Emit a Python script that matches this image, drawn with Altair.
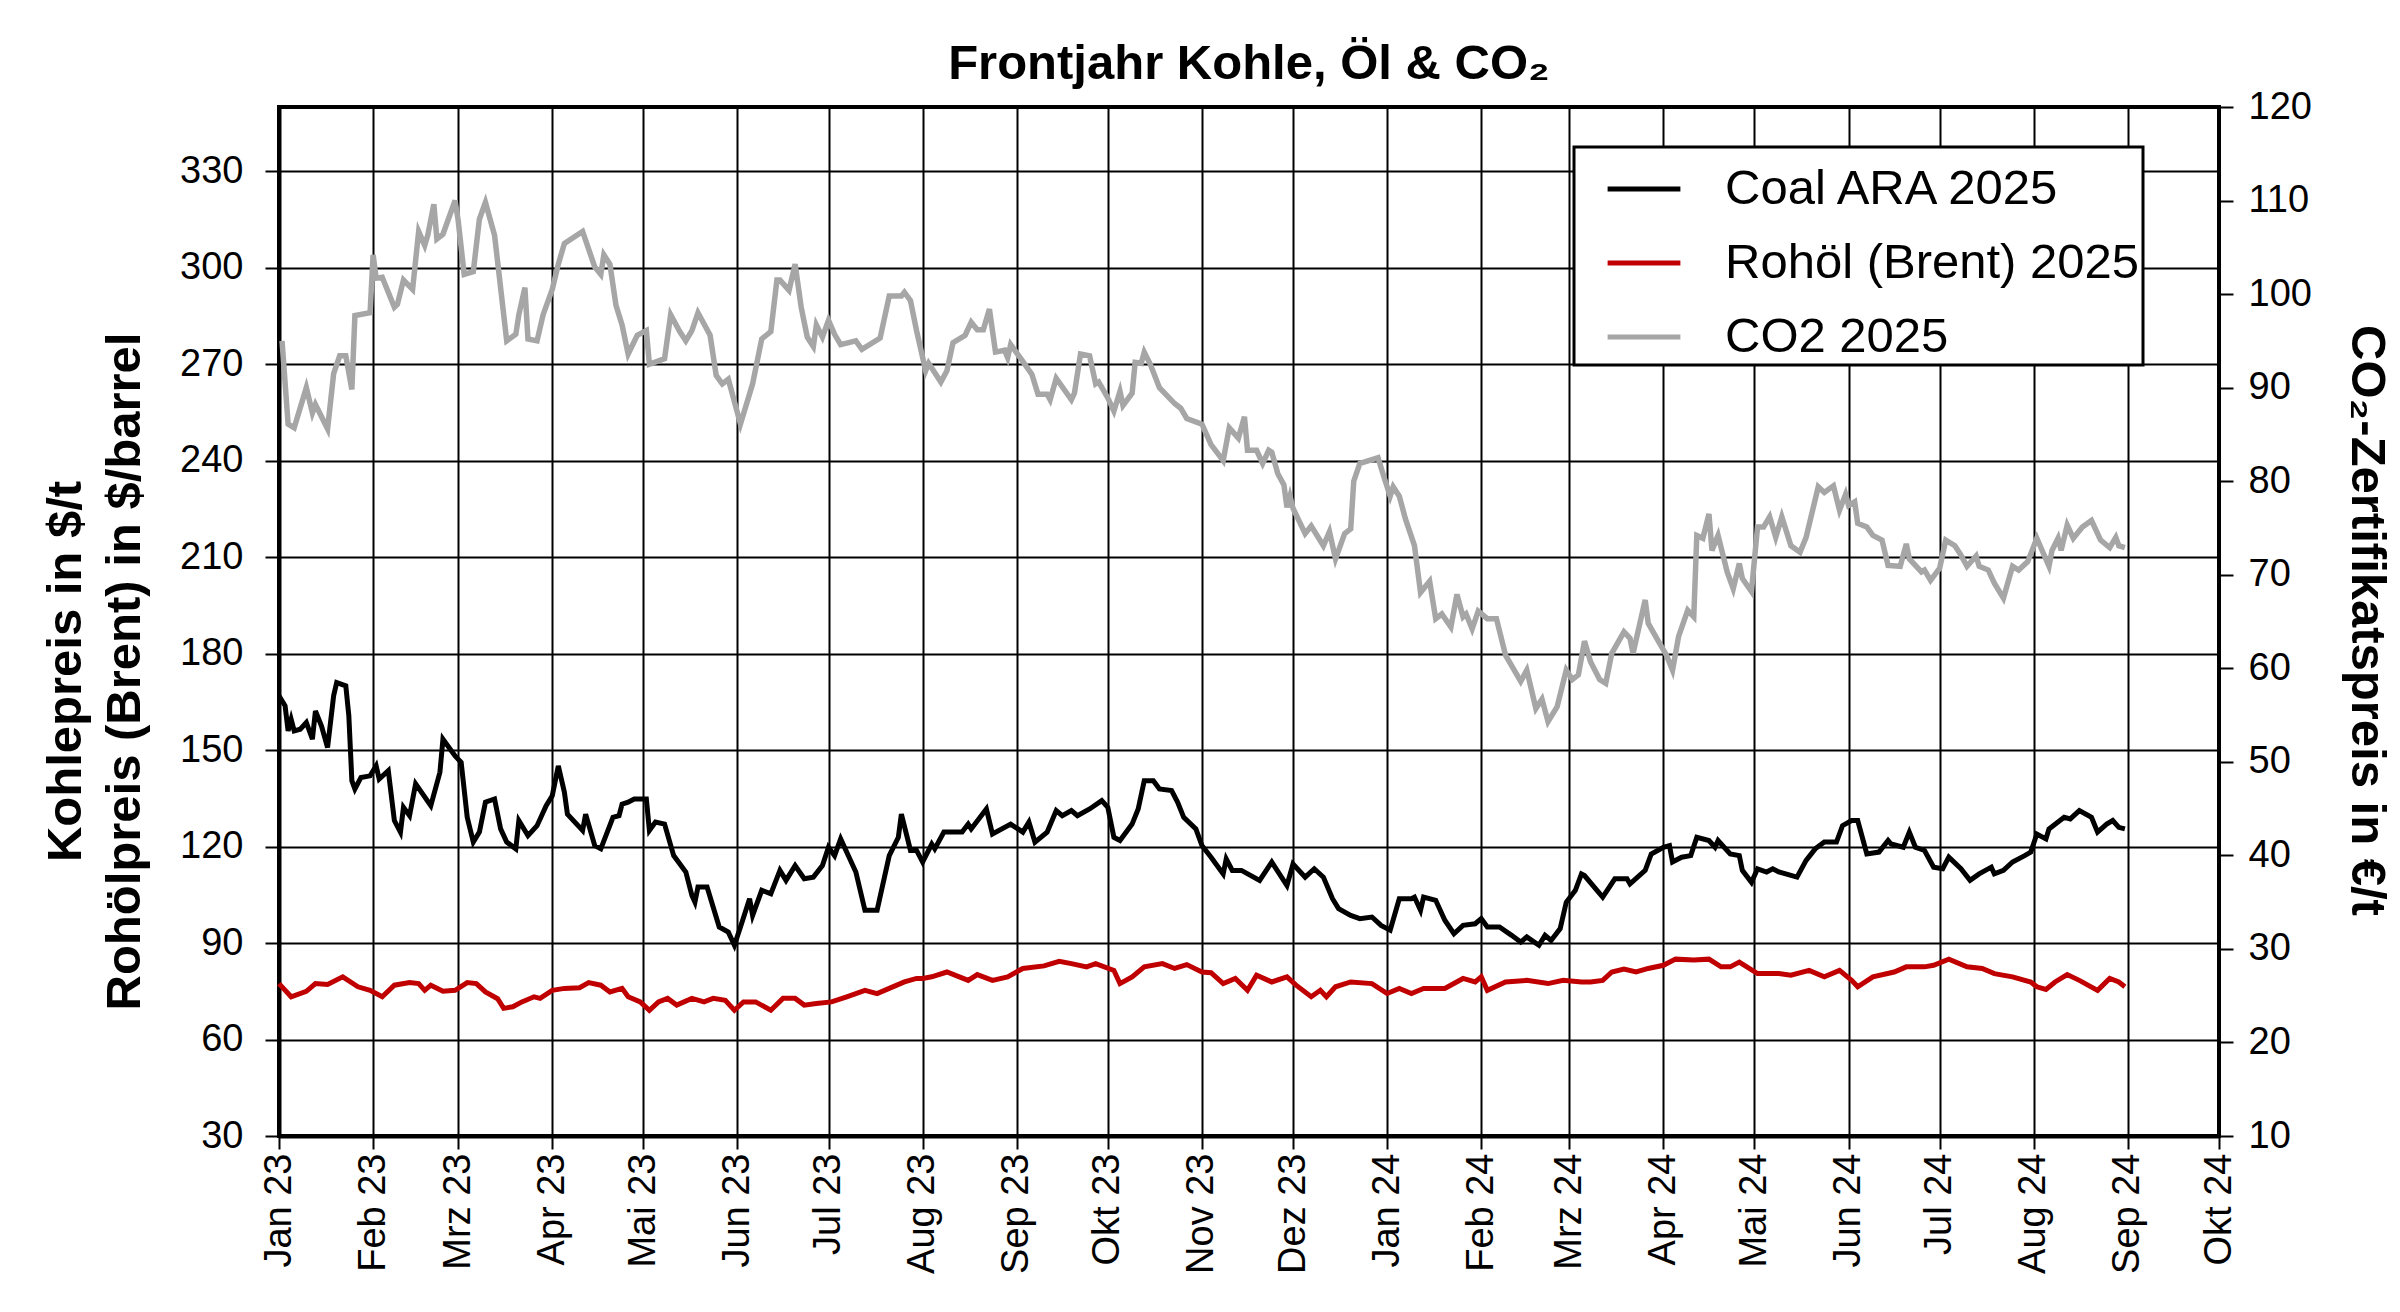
import altair as alt
import pandas as pd

START = pd.Timestamp("2023-01-01")

SERIES = ["Coal ARA 2025", "Rohöl (Brent) 2025", "CO2 2025"]
COLORS = ["#000000", "#C00000", "#A6A6A6"]

MONTHS_DE = ["Jan", "Feb", "Mrz", "Apr", "Mai", "Jun", "Jul", "Aug", "Sep", "Okt", "Nov", "Dez"]

# days since 2023-01-01
coal_day = [0, 2, 3, 4, 5, 7, 9, 11, 12, 14, 16, 18, 19, 22, 23, 24, 25, 27, 30, 32, 33, 36, 38, 40, 41, 43, 45, 50, 53, 54,
            58, 60, 62, 64, 66, 68, 71, 73, 75, 78, 79, 82, 85, 88, 90, 92, 94, 95, 100, 101, 104, 106, 110, 112, 113, 115,
            117, 121, 122, 124, 127, 130, 134, 136, 137, 138, 141, 145, 148, 150, 152, 155, 156, 159, 162, 165, 167, 170,
            173, 176, 179, 181, 183, 185, 188, 190, 193, 197, 201, 204, 205, 208, 210, 212, 215, 216, 219, 225, 227, 228,
            233, 235, 241, 245, 247, 249, 253, 256, 258, 261, 263, 267, 271, 273, 275, 277, 281, 283, 285, 288, 290, 294,
            296, 298, 302, 304, 307, 311, 312, 314, 317, 323, 327, 332, 334, 338, 341, 344, 347, 349, 353, 356, 360, 363,
            366, 369, 373, 374, 376, 377, 381, 384, 387, 390, 394, 396, 398, 402, 406, 409, 411, 415, 417, 419, 422, 424,
            427, 429, 430, 436, 440, 444, 445, 450, 452, 456, 458, 459, 462, 465, 467, 471, 473, 474, 478, 481, 482, 485,
            487, 490, 492, 494, 500, 503, 506, 509, 513, 515, 518, 520, 523, 527, 530, 531, 535, 537, 539, 542, 545, 548,
            550, 554, 557, 560, 564, 565, 568, 571, 575, 577, 579, 582, 583, 588, 590, 593, 597, 599, 602, 604, 606, 608]
coal_usd = [166.9, 163.8, 156.0, 159.6, 156.0, 156.5, 158.6, 153.4, 162.2, 157.5, 150.8, 166.9, 171.0, 170.0, 160.7, 140.5,
            137.9, 141.5, 142.0, 145.1, 141.0, 143.6, 128.1, 124.5, 132.2, 129.6, 139.5, 132.7, 143.1, 153.4,
            148.2, 146.2, 129.1, 121.4, 124.5, 133.8, 134.8, 125.5, 121.4, 119.3, 128.1, 123.4, 126.5, 132.7, 135.8, 145.1,
            136.9, 130.1, 125.0, 130.1, 120.3, 119.3, 129.1, 129.6, 133.2, 133.8,
            134.8, 134.8, 125.0, 127.6, 127.0, 117.2, 112.1, 104.8, 102.7, 107.4, 107.4, 95.0, 93.4, 89.3, 95.0, 103.8,
            98.6, 106.4, 105.3, 112.6, 109.5, 114.1,
            110.0, 110.5, 114.1, 119.8, 117.2, 122.4, 116.2, 112.1, 100.2, 100.2, 117.2, 122.9, 130.1, 118.8, 118.8, 115.2,
            120.8, 119.3, 124.5, 124.5, 127.0, 125.5,
            131.7, 123.9, 127.0, 124.5, 127.6, 121.4, 124.5, 131.2, 129.6, 131.2, 129.6, 131.7, 134.3, 132.2, 122.9, 121.9,
            127.0, 131.7, 140.5, 140.5, 137.9, 137.4,
            133.8, 129.1, 125.5, 120.3, 116.7, 111.5, 116.2, 112.6, 112.6, 109.5, 115.2, 107.9, 114.6, 110.5, 113.1, 110.5,
            103.8, 100.7, 98.6, 97.6, 98.1, 95.5,
            94.0, 103.8, 103.8, 104.3, 100.2, 104.3, 103.3, 97.1, 92.9, 95.5, 96.0, 97.6, 95.0, 95.0, 92.4, 90.3, 91.9, 89.3,
            92.4, 90.8, 94.5, 102.7,
            106.4, 111.5, 111.0, 104.3, 110.0, 110.0, 108.4, 112.6, 117.7, 119.8, 120.3, 115.2, 116.7, 117.2, 122.9, 121.9,
            119.8, 121.9, 117.7, 117.2, 112.6, 108.9,
            113.1, 112.1, 113.1, 112.1, 110.5, 115.7, 119.3, 121.4, 121.4, 126.5, 128.1, 128.1, 117.7, 118.3, 121.9, 120.8,
            119.8, 124.5, 119.8, 118.8, 113.6, 113.1,
            116.7, 113.1, 109.5, 111.5, 113.6, 111.5, 112.6, 115.2, 117.2, 118.3, 123.9, 122.4, 125.5, 129.1, 128.6, 131.2,
            129.1, 124.5, 127.0, 128.1, 126.0, 125.5]

oil_day = [0, 4, 9, 12, 16, 21, 26, 30, 34, 38, 43, 46, 48, 50, 54, 58, 62, 65, 68, 72, 74, 77, 80, 84, 86, 90, 94, 99, 102,
           106, 109, 113, 115, 119, 122, 125, 128, 131, 136, 140, 143, 147, 150, 153, 157, 162, 166, 170, 173, 177, 182,
           187, 193, 197, 201, 206, 210, 212, 215, 220, 227, 230, 235, 240, 245, 252, 257, 261, 266, 269, 275, 277, 281,
           285, 291, 295, 299, 304, 307, 311, 315, 319, 322, 327, 332, 335, 340, 343, 345, 348, 353, 360, 365, 369, 373,
           377, 384, 390, 394, 396, 398, 404, 411, 418, 423, 429, 432, 436, 439, 443, 447, 451, 456, 460, 466, 471, 475,
           478, 481, 487, 494, 498, 504, 509, 514, 518, 520, 525, 532, 536, 542, 545, 550, 556, 561, 565, 571, 577, 579,
           582, 585, 589, 593, 599, 603, 606, 608]
oil_usd = [77.4, 73.3, 75.0, 77.4, 77.1, 79.5, 76.4, 75.3, 73.3, 76.9, 77.7, 77.4, 75.3, 76.9, 75.0, 75.3, 77.7, 77.4, 74.8,
           72.7, 69.7, 70.2, 71.7, 73.3, 72.8, 75.3, 75.9, 76.1, 77.7,
           76.9, 74.8, 75.9, 73.3, 71.7, 69.1, 71.7, 72.8, 70.7, 72.8, 71.7, 72.8, 72.2, 69.1, 71.7, 71.7, 69.1, 72.8, 72.8,
           70.7, 71.2, 71.7,
           73.3, 75.3, 74.3, 75.9, 77.9, 79.0, 79.0, 79.5, 81.0, 78.4, 80.2, 78.4, 79.5, 82.1, 82.9, 84.3, 83.6, 82.6, 83.6,
           81.5, 77.4, 79.5,
           82.6, 83.6, 82.1, 83.3, 81.0, 80.8, 77.4, 79.0, 75.3, 80.0, 77.9, 79.5, 76.9, 73.3, 75.3, 73.3, 76.4, 77.9, 77.4,
           74.3, 75.9, 74.3,
           75.9, 75.9, 79.0, 77.9, 79.5, 75.3, 77.9, 78.4, 77.4, 78.4, 77.9, 77.9, 78.4, 81.0, 81.9, 81.0, 82.1, 83.1, 85.0,
           84.7, 85.0, 82.6,
           82.6, 84.1, 80.5, 80.5, 80.0, 81.5, 79.5, 81.5, 78.4, 76.4, 79.5, 81.0, 82.6, 82.6, 83.1, 85.0, 82.6, 82.1, 80.5,
           79.5, 77.9, 76.4,
           75.6, 77.9, 80.2, 78.4, 75.3, 79.0, 77.9, 76.4]

co2_day = [1, 3, 5, 9, 11, 12, 16, 18, 20, 22, 24, 25, 30, 31, 32, 34, 38, 39, 41, 44, 46, 48, 49, 51, 52, 54, 58, 59, 61,
           64, 66, 68, 71, 75, 78, 79, 81, 82, 85, 87, 90, 92, 94, 100, 104, 106, 107, 109, 111, 113, 115, 118, 121, 122,
           127, 129, 132, 134, 136, 138, 142, 144, 146, 148, 152, 156, 159, 162, 164, 165, 168, 170, 172, 174, 176, 177,
           179, 181, 183, 185, 190, 192, 198, 201, 205, 206, 208, 210,
           213, 214, 218, 220, 222, 226, 228, 230, 232, 234, 236, 239, 240, 241, 245, 248, 250, 253, 254, 256, 261, 262,
           264, 267, 269, 270, 273, 275, 277, 278, 281, 282, 284, 285, 287, 290, 295, 297, 299, 304, 307, 311, 313, 316,
           318, 319, 322, 324, 326, 327, 329, 331, 332, 333, 334, 338, 340, 344, 346, 348, 351, 353, 354, 356, 362, 364,
           366, 367, 369, 371, 374, 376, 379, 381, 383, 386, 388, 390, 391, 393, 395, 398, 401, 404, 409, 411, 414, 416,
           418, 421, 424,
           426, 428, 430, 432, 435, 437, 439, 443, 445, 446, 450, 451, 454, 457, 459, 461, 464, 466, 467, 469, 471, 472,
           474, 477, 479, 481, 482, 485, 487, 489, 491, 493, 495, 498, 501, 503, 507, 509, 512, 514, 516, 517, 519, 520,
           523, 525, 528, 530, 534, 536, 537, 541, 542, 544, 547, 549, 552, 554, 556, 559, 560, 563, 565, 568, 571, 573,
           576, 579, 581, 583, 584, 586, 587, 589, 591, 594, 597, 600, 603, 605, 606, 608]
co2_eur = [95.0, 86.1, 85.7, 90.0, 87.3, 88.2, 85.6, 91.5, 93.4, 93.4, 89.8, 97.7, 98.0, 104.2, 101.7, 101.8, 98.6, 98.9,
           101.5, 100.5, 106.7, 105.2, 106.3, 109.6, 105.9, 106.4, 110.0, 107.9, 102.1,
           102.4, 108.0, 109.8, 106.3, 95.0, 95.7, 97.8, 100.7, 95.2, 95.0, 97.8, 100.5, 103.2, 105.4, 106.7, 102.9, 102.1,
           104.2, 103.2, 98.8, 96.7, 93.6, 95.6, 96.1, 92.5,
           93.1, 97.8, 96.0, 95.0, 96.1, 98.0, 95.6, 91.3, 90.4, 90.9, 86.1, 90.4, 95.2, 96.0, 101.5, 101.5, 100.4, 103.2,
           98.6, 95.4, 94.4, 96.7,
           95.4, 97.2, 95.7, 94.6, 95.0, 94.1, 95.3, 99.8, 99.8, 100.2, 99.3, 96.1,
           91.8, 92.6, 90.6, 91.8, 94.8, 95.6, 97.0, 96.2, 96.2, 98.4, 93.8, 94.0, 93.2, 94.6, 92.8, 91.4, 89.3, 89.3, 88.7,
           91.0, 88.7, 89.4,
           93.6, 93.4, 90.4, 90.6, 88.9, 87.5, 89.6, 88.1, 89.4, 92.7, 92.6, 93.8, 92.5, 90.0, 88.3, 87.8, 86.7, 86.1, 83.9,
           82.2, 85.7, 84.6,
           86.9, 83.3, 83.3, 81.9, 83.3, 83.1, 80.8, 79.6, 77.2, 78.4, 77.1, 74.4, 75.2, 73.1, 74.6, 71.7, 74.4, 74.9, 80.0,
           81.9, 82.5, 80.4,
           78.4, 79.4, 78.4, 76.0, 73.1, 68.1, 69.3, 65.3, 65.8, 64.4, 67.9, 65.5, 65.8, 64.2, 66.1, 65.3, 65.3, 61.4, 58.6,
           59.8, 55.7, 56.7,
           54.3, 55.9, 59.8,
           58.8, 59.3, 62.9, 60.7, 58.8, 58.4, 61.6, 63.9, 63.2, 61.6, 67.3, 64.8, 63.1, 61.4, 59.8, 63.4, 66.2, 65.5, 74.2,
           73.9, 76.5, 72.6,
           74.2, 70.3, 68.5, 71.2, 69.6, 68.2, 75.1, 75.1, 76.2, 74.0, 76.2, 73.1, 72.4, 74.0, 79.4, 78.8, 79.5, 76.9, 78.6,
           77.4, 77.8, 75.5,
           75.1, 74.2, 73.7, 71.0, 70.9, 73.3, 71.7, 70.3, 70.5, 69.4, 70.7, 73.7, 73.1, 72.1, 70.9, 72.0, 70.9, 70.5, 69.1,
           67.5, 70.9, 70.5,
           71.4, 73.9, 72.4, 70.9, 72.6, 73.9, 72.6, 75.3, 73.9, 75.1, 75.8, 73.7, 72.9, 74.0, 73.1, 72.9]

left_ticks = [30, 60, 90, 120, 150, 180, 210, 240, 270, 300, 330]
right_ticks = [10, 20, 30, 40, 50, 60, 70, 80, 90, 100, 110, 120]


def frame(days, vals, name):
    dates = START + pd.to_timedelta(days, unit="D")
    return pd.DataFrame({"date": dates.strftime("%Y-%m-%d"), "value": vals, "series": name})


left_df = pd.concat([frame(coal_day, coal_usd, SERIES[0]), frame(oil_day, oil_usd, SERIES[1])], ignore_index=True)
right_df = frame(co2_day, co2_eur, SERIES[2])

month_ticks = [alt.DateTime(year=2023 + (i // 12), month=(i % 12) + 1, date=1, utc=True) for i in range(22)]
x_domain = [alt.DateTime(year=2023, month=1, date=1, utc=True), alt.DateTime(year=2024, month=10, date=1, utc=True)]

FONT = "Liberation Sans"
label_expr = ("['" + "','".join(MONTHS_DE) + "'][utcmonth(datum.value)] + ' ' + utcFormat(datum.value, '%y')")

x_enc = alt.X(
    "date:T",
    scale=alt.Scale(type="utc", domain=x_domain),
    axis=alt.Axis(
        values=month_ticks, labelExpr=label_expr, labelAngle=270, title=None,
        grid=True, gridColor="black", gridWidth=2, gridOpacity=1,
        tickSize=13, tickWidth=2, tickColor="black", labelPadding=4,
        domainColor="black", domainWidth=4,
        labelFontSize=38, labelFont=FONT, labelColor="black",
        labelFlush=False, labelOverlap=False, labelBound=False,
    ),
)

color_enc = alt.Color(
    "series:N",
    scale=alt.Scale(domain=SERIES, range=COLORS),
    legend=alt.Legend(
        title=None, orient="none", legendX=1295, legendY=40,
        symbolType="stroke", symbolSize=5300, symbolStrokeWidth=5,
        symbolOffset=28, labelOffset=42, labelFontSize=49, labelFont=FONT, labelColor="black",
        labelExpr="datum.label + '\u00a0\u00a0'",
        labelLimit=700, padding=3, rowPadding=10,
        strokeColor="black", fillColor="white",
    ),
)

left = alt.Chart(left_df).mark_line(strokeWidth=5).encode(
    x=x_enc,
    y=alt.Y(
        "value:Q",
        scale=alt.Scale(domain=[30, 350], nice=False, zero=False),
        axis=alt.Axis(
            values=left_ticks, orient="left",
            title=["Kohlepreis in $/t", "Rohölpreis (Brent) in $/barrel"],
            titleFontSize=49, titleFont=FONT, titleFontWeight="bold", titleColor="black",
            titleLineHeight=59, titleAngle=270, titleBaseline="middle", titleAlign="center",
            titleX=-214, titleY=564,
            grid=True, gridColor="black", gridWidth=2, gridOpacity=1,
            tickSize=14, tickWidth=2, tickColor="black", labelPadding=22,
            domainColor="black", domainWidth=4,
            labelFontSize=38, labelFont=FONT, labelColor="black",
            labelFlush=False, labelOverlap=False, labelBound=False,
        ),
    ),
    color=color_enc,
    order=alt.Order("date:T"),
)

right = alt.Chart(right_df).mark_line(strokeWidth=5.5).encode(
    x=x_enc,
    y=alt.Y(
        "value:Q",
        scale=alt.Scale(domain=[10, 120], nice=False, zero=False),
        axis=alt.Axis(
            values=right_ticks, orient="right",
            title="CO₂-Zertifikatspreis in €/t",
            titleFontSize=49, titleFont=FONT, titleFontWeight="bold", titleColor="black",
            titleAngle=90, titleBaseline="middle", titleAlign="center",
            titleX=147, titleY=513,
            grid=False,
            tickSize=14, tickWidth=2, tickColor="black", labelPadding=15,
            domainColor="black", domainWidth=3,
            labelFontSize=38, labelFont=FONT, labelColor="black",
            labelFlush=False, labelOverlap=False, labelBound=False,
        ),
    ),
    color=color_enc,
    order=alt.Order("date:T"),
)

chart = (
    alt.layer(right, left)
    .resolve_scale(y="independent")
    .properties(
        width=1940,
        height=1029,
        padding={"left": 271, "top": 99, "right": 173, "bottom": 168},
        autosize=alt.AutoSizeParams(type="none"),
        title=alt.TitleParams(
            text="Frontjahr Kohle, Öl & CO₂", fontSize=49, fontWeight="bold", font=FONT, color="black",
            anchor="middle", frame="group", baseline="alphabetic", offset=30, dy=70,
        ),
        background="white",
    )
    .configure_view(stroke="black", strokeWidth=4)
    .configure_legend(strokeWidth=3)
)

chart.save("out.html", embed_options={"renderer": "svg", "actions": False})
